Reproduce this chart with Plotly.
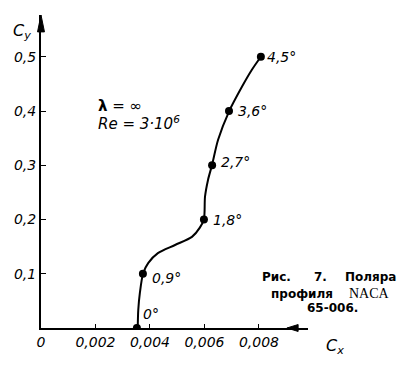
import plotly.graph_objects as go

# Polar curve
curve_cx = [0.00355, 0.00357, 0.00363, 0.00375, 0.00394, 0.00429, 0.00492, 0.00554,
            0.00583, 0.00598, 0.00602, 0.00613, 0.00628, 0.00650, 0.00690, 0.00738,
            0.00774, 0.00807]
curve_cy = [0.0, 0.033, 0.065, 0.101, 0.120, 0.138, 0.153, 0.168,
            0.185, 0.201, 0.242, 0.273, 0.301, 0.347, 0.399, 0.445,
            0.476, 0.500]

# Marked angles of attack
point_cx = [0.00352, 0.00374, 0.00598, 0.00628, 0.00690, 0.00807]
point_cy = [0.0, 0.1, 0.2, 0.3, 0.4, 0.5]
point_labels = ["0°", "0,9°", "1,8°", "2,7°", "3,6°", "4,5°"]

x_tickvals = [0, 0.002, 0.004, 0.006, 0.008]
x_ticktext = ["0", "0,002", "0,004", "0,006", "0,008"]
y_tickvals = [0.1, 0.2, 0.3, 0.4, 0.5]
y_ticktext = ["0,1", "0,2", "0,3", "0,4", "0,5"]

FONT = "DejaVu Sans"

fig = go.Figure()
fig.add_trace(go.Scatter(x=curve_cx, y=curve_cy, mode="lines",
                         line=dict(color="black", width=2, shape="spline", smoothing=0.8),
                         hoverinfo="skip", showlegend=False))
fig.add_trace(go.Scatter(x=point_cx, y=point_cy, mode="markers",
                         marker=dict(color="black", size=8),
                         showlegend=False))

ann = []
# point labels
label_shifts = [(4, 14), (7, -4), (7, 0), (7, 3), (7, 0), (4, 0)]
for (cx, cy, t), (dx, dy) in zip(zip(point_cx, point_cy, point_labels), label_shifts):
    ann.append(dict(x=cx, y=cy, xref="x", yref="y", xanchor="left", yanchor="middle",
                    xshift=dx, yshift=dy, text="<i>" + t + "</i>", showarrow=False,
                    font=dict(family=FONT, size=14, color="black")))

fig.update_layout(
    width=400, height=373,
    margin=dict(l=41, r=92, t=15, b=45),
    paper_bgcolor="white", plot_bgcolor="white",
    xaxis=dict(range=[0, 0.0098], tickvals=x_tickvals,
               ticktext=["<i>" + t + "</i>" for t in x_ticktext],
               ticks="inside", ticklen=4, tickcolor="black", tickwidth=1,
               showline=True, linecolor="black", linewidth=2,
               showgrid=False, zeroline=False,
               tickfont=dict(family=FONT, size=14, color="black")),
    yaxis=dict(range=[0, 0.577], tickvals=y_tickvals,
               ticktext=["<i>" + t + "</i>" for t in y_ticktext],
               ticks="inside", ticklen=5, tickcolor="black", tickwidth=1,
               showline=True, linecolor="black", linewidth=2,
               showgrid=False, zeroline=False,
               tickfont=dict(family=FONT, size=14, color="black")),
    shapes=[
        # y-axis arrowhead
        dict(type="path", xref="paper", yref="paper",
             path="M -0.013 0.946 L 0 1.0 L 0.013 0.946 Z",
             fillcolor="black", line=dict(color="black", width=1)),
        # x-axis arrowhead mark
        dict(type="path", xref="paper", yref="paper",
             path="M 0.921 0 L 0.963 0.011 L 0.963 -0.011 Z",
             fillcolor="black", line=dict(color="black", width=1)),
    ],
)

ann.append(dict(xref="paper", yref="paper", x=-0.071, y=0.946, xanchor="center", yanchor="middle",
                text="<i>C<sub>y</sub></i>", showarrow=False,
                font=dict(family=FONT, size=16, color="black")))
ann.append(dict(xref="paper", yref="paper", x=1.101, y=-0.058, xanchor="center", yanchor="middle",
                text="<i>C<sub>x</sub></i>", showarrow=False,
                font=dict(family=FONT, size=16, color="black")))
ann.append(dict(xref="paper", yref="paper", x=0.207, y=0.71, xanchor="left", yanchor="middle",
                text="<b>λ</b> = ∞", showarrow=False,
                font=dict(family=FONT, size=15, color="black")))
ann.append(dict(xref="paper", yref="paper", x=0.207, y=0.655, xanchor="left", yanchor="middle",
                text="<i>Re = 3·10<sup>6</sup></i>", showarrow=False,
                font=dict(family=FONT, size=15, color="black")))

# caption, laid out word by word (justified as in the reference)
cap_font = dict(family="DejaVu Sans", size=12, color="black")
caption_words = [
    ("<b>Рис.</b>", 0.820, 0.163),
    ("<b>7.</b>", 1.015, 0.163),
    ("<b>Поляра</b>", 1.131, 0.163),
    ("<b>профиля</b>", 0.854, 0.109),
    ("<b>65-006.</b>", 0.989, 0.064),
]
for t, x, y in caption_words:
    ann.append(dict(xref="paper", yref="paper", x=x, y=y, xanchor="left", yanchor="middle",
                    text=t, showarrow=False, font=cap_font))
ann.append(dict(xref="paper", yref="paper", x=1.146, y=0.109, xanchor="left", yanchor="middle",
                text="NACA", showarrow=False,
                font=dict(family="Liberation Serif", size=14, color="black")))
fig.layout.annotations = ann

fig.write_html("out.html", config={"displayModeBar": False},
               post_script="document.body.style.margin='0';")
